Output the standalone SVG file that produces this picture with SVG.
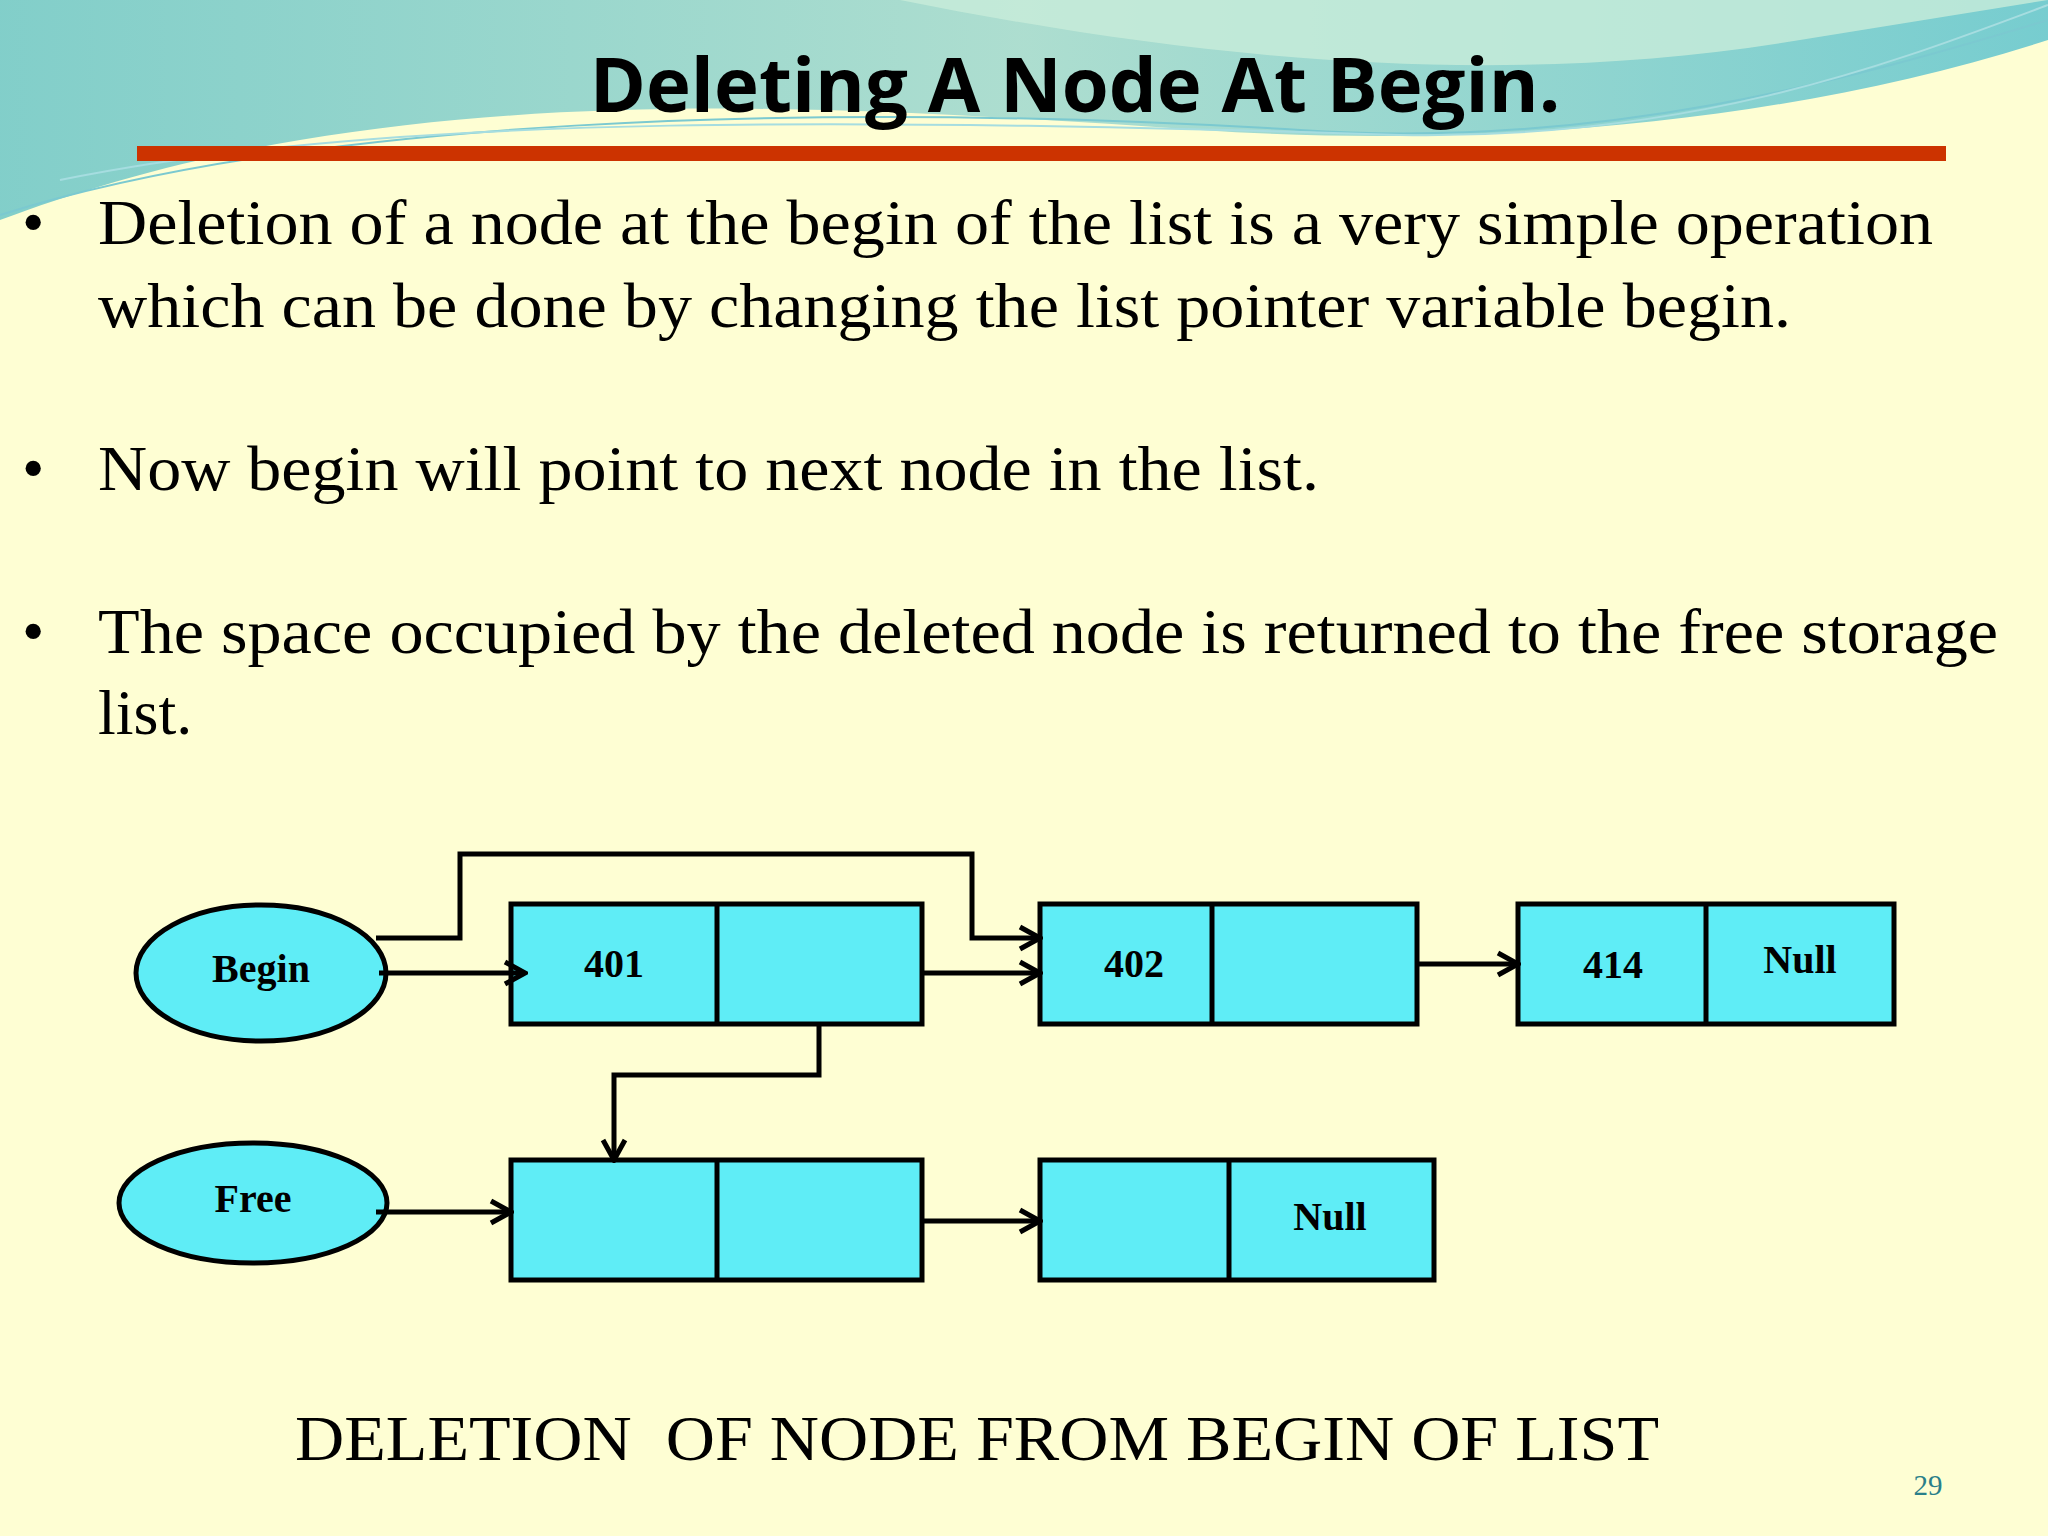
<svg xmlns="http://www.w3.org/2000/svg" width="2048" height="1536" viewBox="0 0 2048 1536">
<defs>
<linearGradient id="wave" x1="0" y1="0" x2="1" y2="0">
<stop offset="0" stop-color="#6cc6c8"/><stop offset="0.5" stop-color="#9fd8cf"/><stop offset="1" stop-color="#5fc4cf"/>
</linearGradient>
<marker id="ah" viewBox="0 0 28 28" refX="25" refY="14" markerWidth="28" markerHeight="28" markerUnits="userSpaceOnUse" orient="auto">
<polyline points="5,3 25,14 5,25" fill="none" stroke="#000" stroke-width="5"/>
</marker>
<style>
.box{fill:#5fedf6;stroke:#000;stroke-width:5}
.ell{fill:#5fedf6;stroke:#000;stroke-width:5}
.lbl{font-family:"Liberation Serif",serif;font-weight:bold;font-size:40px;text-anchor:middle;dominant-baseline:middle;fill:#000}
.body{font-family:"Liberation Serif",serif;font-size:64px;fill:#000}
.con{fill:none;stroke:#000;stroke-width:5;marker-end:url(#ah)}
.line{fill:none;stroke:#000;stroke-width:5}
</style>
</defs>
<rect width="2048" height="1536" fill="#fefed3"/>
<g id="decor">
<path d="M0,0 H2048 V40 C1800,120 1500,150 1200,130 C900,110 600,90 300,140 C180,160 80,190 0,220 Z" fill="url(#wave)" opacity="0.85"/>
<path d="M900,0 C1200,60 1500,90 1800,40 L2048,0 Z" fill="#c8ecd9" opacity="0.8"/>
<path d="M0,215 C300,120 800,100 1300,130 C1600,150 1850,80 2048,20" fill="none" stroke="#7bc9d0" stroke-width="2"/>
<path d="M60,180 C400,110 900,120 1400,135 C1700,140 1900,60 2048,5" fill="none" stroke="#a6dde0" stroke-width="2"/>
</g>
<g id="title">
<text x="1075" y="112" font-family="'Open Sans','Liberation Sans',sans-serif" font-weight="bold" font-size="76" text-anchor="middle" fill="#000">Deleting A Node At Begin.</text>
<rect x="137" y="146" width="1809" height="15" fill="#cc3300"/>
</g>
<g id="bullets">
<text x="22" y="244" class="body">•</text>
<text x="98" y="244" class="body" textLength="1835" lengthAdjust="spacingAndGlyphs">Deletion of a node at the begin of the list is a very simple operation</text>
<text x="98" y="327" class="body" textLength="1693" lengthAdjust="spacingAndGlyphs">which can be done by changing the list pointer variable begin.</text>
<text x="22" y="490" class="body">•</text>
<text x="98" y="490" class="body" textLength="1221" lengthAdjust="spacingAndGlyphs">Now begin will point to next node in the list.</text>
<text x="22" y="653" class="body">•</text>
<text x="98" y="653" class="body" textLength="1900" lengthAdjust="spacingAndGlyphs">The space occupied by the deleted node is returned to the free storage</text>
<text x="98" y="734" class="body">list.</text>
</g>
<g id="begin"><ellipse class="ell" cx="261" cy="973" rx="125" ry="68"/><text class="lbl" x="261" y="973">Begin</text></g>
<g id="free"><ellipse class="ell" cx="253" cy="1203" rx="134" ry="60"/><text class="lbl" x="253" y="1203">Free</text></g>
<g id="n401"><rect class="box" x="511" y="904" width="411" height="120"/><line class="line" x1="717" y1="904" x2="717" y2="1024"/><text class="lbl" x="614" y="968">401</text></g>
<g id="n402"><rect class="box" x="1040" y="904" width="377" height="120"/><line class="line" x1="1212" y1="904" x2="1212" y2="1024"/><text class="lbl" x="1134" y="968">402</text></g>
<g id="n414"><rect class="box" x="1518" y="904" width="376" height="120"/><line class="line" x1="1706" y1="904" x2="1706" y2="1024"/><text class="lbl" x="1613" y="969">414</text><text class="lbl" x="1800" y="964">Null</text></g>
<g id="f1"><rect class="box" x="511" y="1160" width="411" height="120"/><line class="line" x1="717" y1="1160" x2="717" y2="1280"/></g>
<g id="f2"><rect class="box" x="1040" y="1160" width="394" height="120"/><line class="line" x1="1229" y1="1160" x2="1229" y2="1280"/><text class="lbl" x="1330" y="1221" font-size="36">Null</text></g>
<g id="connectors">
<path class="con" d="M379,973 H525"/>
<path class="con" d="M376,938 H460 V854 H972 V938 H1040"/>
<path class="con" d="M922,973 H1040"/>
<path class="con" d="M1417,964 H1518"/>
<path class="con" d="M819,1024 V1075 H614 V1160"/>
<path class="con" d="M376,1212 H511"/>
<path class="con" d="M922,1221 H1040"/>
</g>
<g id="caption">
<text x="295" y="1460" font-family="'Liberation Serif',serif" font-size="64" fill="#000" xml:space="preserve" textLength="1364" lengthAdjust="spacingAndGlyphs">DELETION  OF NODE FROM BEGIN OF LIST</text>
<text x="1928" y="1495" font-family="'Liberation Serif',serif" font-size="29" fill="#2a7f8a" text-anchor="middle">29</text>
</g>
</svg>
